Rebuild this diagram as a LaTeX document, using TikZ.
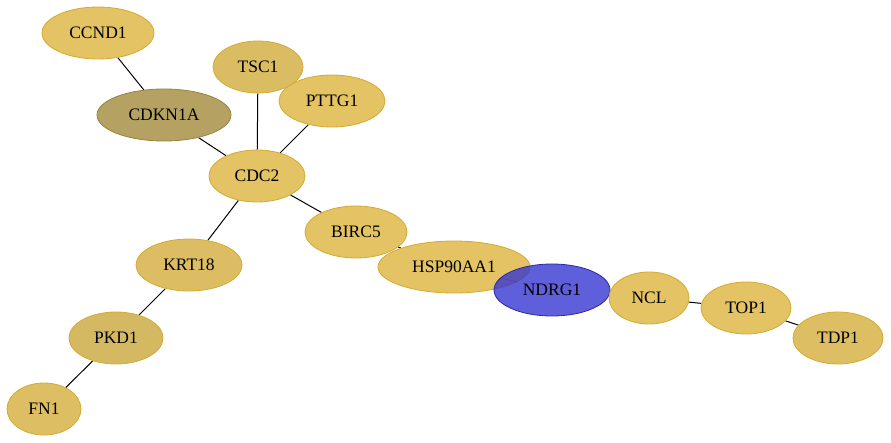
\documentclass[tikz,border=0pt]{standalone}
\usepackage{fontspec}
\setmainfont{Liberation Serif}
\usetikzlibrary{shapes.geometric,backgrounds}
\definecolor{gold}{RGB}{222,184,72}
\definecolor{goldline}{RGB}{212,170,48}
\definecolor{olive}{RGB}{168,146,70}
\definecolor{query}{RGB}{50,50,210}
\tikzset{
  gene/.style = {ellipse,draw=goldline,fill=gold,fill opacity=0.85,text opacity=1,
    line width=0.8pt,inner sep=0pt,minimum height=52pt,font=\fontsize{17.5}{20}\selectfont},
  seed/.style = {gene,draw=query!80!black,fill=query,fill opacity=0.78},
  link/.style = {draw=black,line width=1pt}
}
\begin{document}
\begin{tikzpicture}[x=1pt,y=-1pt]
  \useasboundingbox (0,0) rectangle (891,443);
  \node[gene,minimum width=112pt] (ccnd1) at (98,33) {CCND1};
  \node[gene,minimum width=90pt,fill=gold!82!olive] (tsc1) at (258,67) {TSC1};
  \node[gene,minimum width=106pt] (pttg1) at (332,101) {PTTG1};
  \node[gene,minimum width=134pt,fill=olive,draw=olive!90!black] (cdkn1a) at (164,115) {CDKN1A};
  \node[gene,minimum width=96pt] (cdc2) at (257,176) {CDC2};
  \node[gene,minimum width=102pt] (birc5) at (356,232) {BIRC5};
  \node[gene,minimum width=152pt] (hsp) at (454,267) {HSP90AA1};
  \node[seed,minimum width=116pt] (ndrg1) at (552,290) {NDRG1};
  \node[gene,minimum width=80pt] (ncl) at (649,298) {NCL};
  \node[gene,minimum width=90pt] (top1) at (746,308) {TOP1};
  \node[gene,minimum width=90pt,fill=gold!88!olive] (tdp1) at (838,338) {TDP1};
  \node[gene,minimum width=106pt,fill=gold!85!olive] (krt18) at (189,265) {KRT18};
  \node[gene,minimum width=94pt,fill=gold!70!olive] (pkd1) at (116,338) {PKD1};
  \node[gene,minimum width=74pt,fill=gold!88!olive] (fn1) at (44,409) {FN1};
  \begin{scope}[on background layer]
    \draw[link] (ccnd1) -- (cdkn1a);
    \draw[link] (cdkn1a) -- (cdc2);
    \draw[link] (tsc1) -- (cdc2);
    \draw[link] (pttg1) -- (cdc2);
    \draw[link] (cdc2) -- (birc5);
    \draw[link] (cdc2) -- (krt18);
    \draw[link] (birc5) -- (hsp);
    \draw[link] (hsp) -- (ndrg1);
    \draw[link] (ndrg1) -- (ncl);
    \draw[link] (ncl) -- (top1);
    \draw[link] (top1) -- (tdp1);
    \draw[link] (krt18) -- (pkd1);
    \draw[link] (pkd1) -- (fn1);
  \end{scope}
\end{tikzpicture}
\end{document}
